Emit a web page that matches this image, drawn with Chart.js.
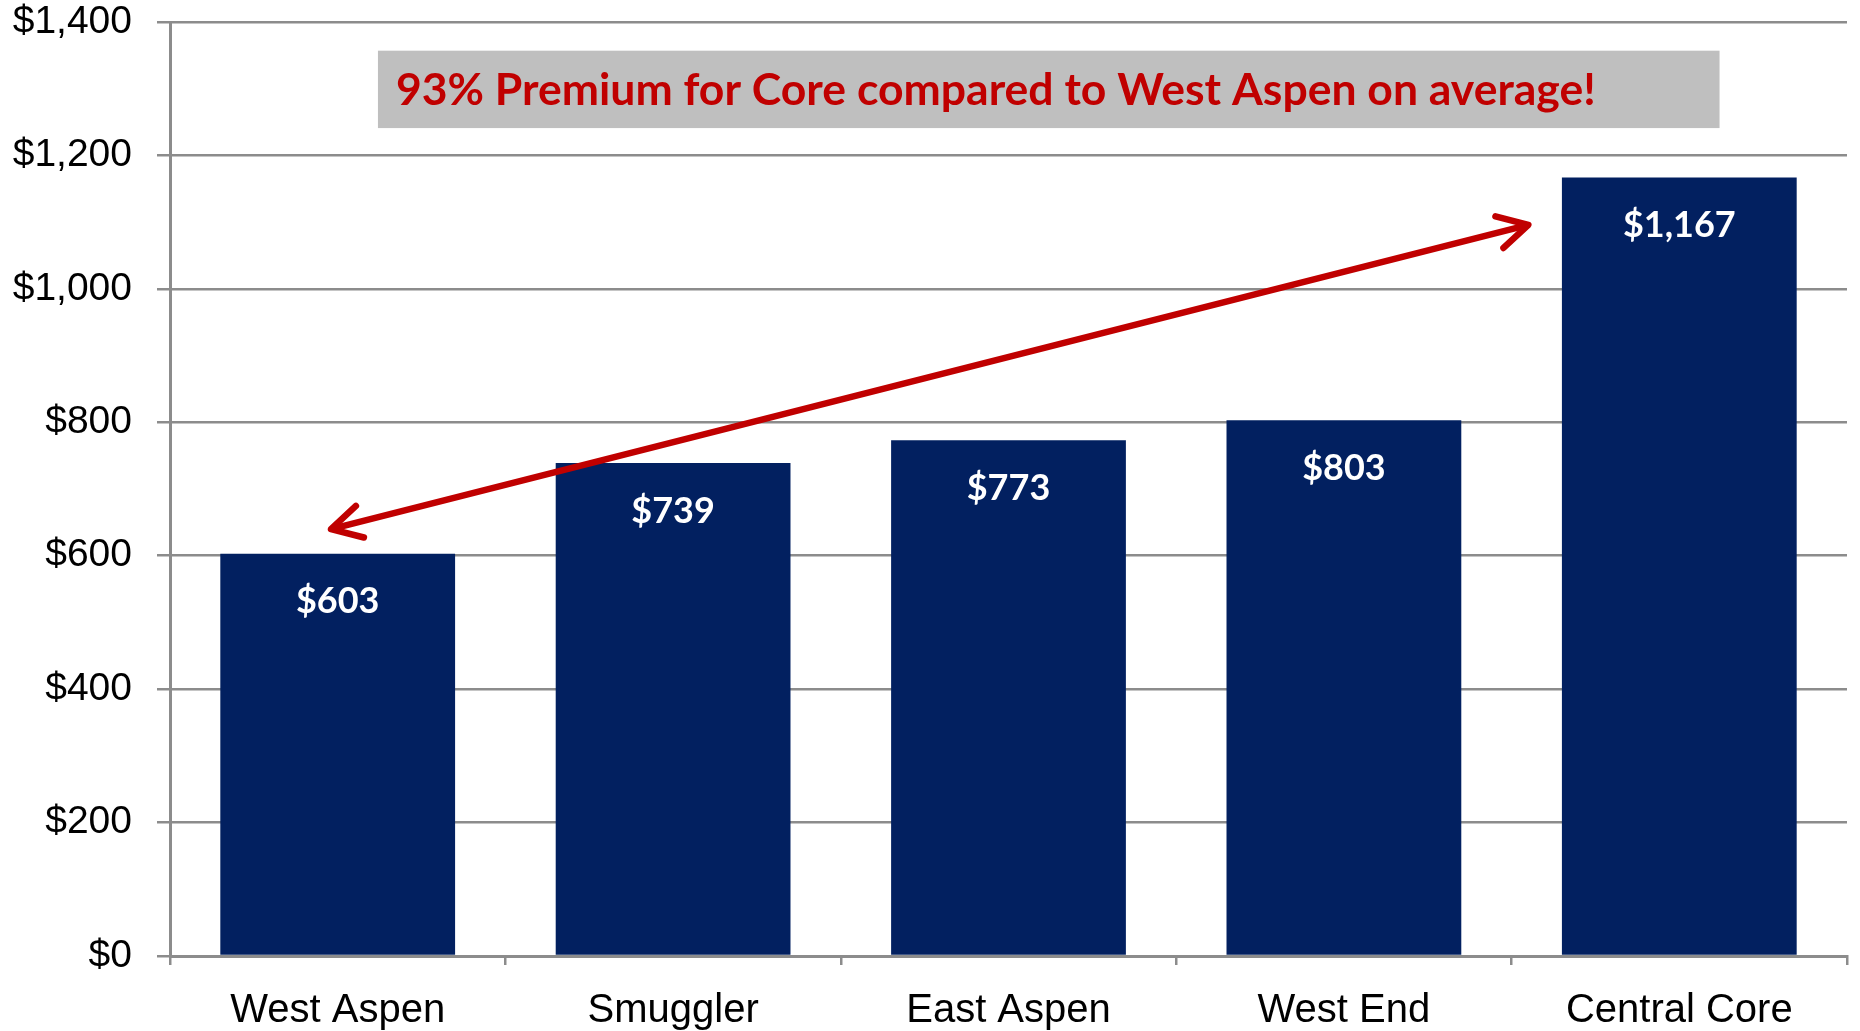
<!DOCTYPE html>
<html>
<head>
<meta charset="utf-8">
<script src="https://cdn.jsdelivr.net/npm/chart.js@4/dist/chart.umd.min.js"></script>
<style>
  html, body { margin: 0; padding: 0; background: #ffffff; }
  #wrap { width: 1860px; height: 1031px; position: relative; }
</style>
</head>
<body>
<div id="wrap"><canvas id="c" width="1860" height="1031"></canvas></div>
<script>
// ---- data ----
const categories = ["West Aspen", "Smuggler", "East Aspen", "West End", "Central Core"];
const values = [603, 739, 773, 803, 1167];
const yTicks = [0, 200, 400, 600, 800, 1000, 1200, 1400];
const calloutText = "93% Premium for Core compared to West Aspen on average!";
// callout box corners in data units: [category index, value]
const calloutFrom = [0.12, 1357];
const calloutTo = [4.12, 1241];
// double-headed arrow end points in data units: [category index, value]
const arrowFrom = [-0.02, 640];
const arrowTo = [3.55, 1096];

const fmt = v => "$" + v.toLocaleString("en-US");

const GRID = "#8c8c8c";
const NAVY = "#022060";
const RED = "#c00000";

const overlay = {
  id: "overlay",
  afterDatasetsDraw(chart) {
    const ctx = chart.ctx;
    const xs = chart.scales.x, ys = chart.scales.y;
    const px = i => xs.getPixelForValue(0) + (xs.getPixelForValue(1) - xs.getPixelForValue(0)) * i;

    // bar value labels
    const meta = chart.getDatasetMeta(0);
    ctx.save();
    ctx.fillStyle = "#ffffff";
    ctx.font = "700 36px Lato";
    ctx.textAlign = "center";
    ctx.textBaseline = "middle";
    meta.data.forEach((bar, i) => {
      ctx.fillText(fmt(values[i]), bar.x, bar.y + 48);
    });
    ctx.restore();

    // callout box
    const bx0 = px(calloutFrom[0]), by0 = ys.getPixelForValue(calloutFrom[1]);
    const bx1 = px(calloutTo[0]), by1 = ys.getPixelForValue(calloutTo[1]);
    ctx.save();
    ctx.fillStyle = "#bfbfbf";
    ctx.fillRect(bx0, by0, bx1 - bx0, by1 - by0);
    ctx.fillStyle = RED;
    ctx.font = "700 44.5px Lato";
    ctx.textAlign = "left";
    ctx.textBaseline = "middle";
    ctx.fillText(calloutText, bx0 + 18, (by0 + by1) / 2 + 1);
    ctx.restore();

    // double-headed arrow
    const x0 = px(arrowFrom[0]), y0 = ys.getPixelForValue(arrowFrom[1]);
    const x1 = px(arrowTo[0]), y1 = ys.getPixelForValue(arrowTo[1]);
    const ang = Math.atan2(y1 - y0, x1 - x0);
    const head = 34, spread = 0.5;
    ctx.save();
    ctx.strokeStyle = RED;
    ctx.lineWidth = 6.5;
    ctx.lineCap = "round";
    ctx.lineJoin = "round";
    ctx.beginPath();
    ctx.moveTo(x0 + Math.cos(ang) * 3, y0 + Math.sin(ang) * 3);
    ctx.lineTo(x1 - Math.cos(ang) * 3, y1 - Math.sin(ang) * 3);
    ctx.stroke();
    const drawHead = (x, y, a) => {
      ctx.beginPath();
      ctx.moveTo(x + Math.cos(a + spread) * head, y + Math.sin(a + spread) * head);
      ctx.lineTo(x, y);
      ctx.lineTo(x + Math.cos(a - spread) * head, y + Math.sin(a - spread) * head);
      ctx.stroke();
    };
    drawHead(x1, y1, ang + Math.PI);
    drawHead(x0, y0, ang);
    ctx.restore();
  }
};

new Chart(document.getElementById("c"), {
  type: "bar",
  data: {
    labels: categories,
    datasets: [{
      data: values,
      backgroundColor: NAVY,
      borderWidth: 0,
      barPercentage: 0.70,
      categoryPercentage: 1.0
    }]
  },
  options: {
    responsive: false,
    animation: false,
    devicePixelRatio: 1,
    layout: { padding: { top: 22, right: 13, left: 0, bottom: 0 } },
    plugins: { legend: { display: false }, tooltip: { enabled: false } },
    scales: {
      x: {
        grid: {
          display: true,
          offset: true,
          drawOnChartArea: false,
          drawTicks: true,
          tickLength: 9,
          color: GRID,
          lineWidth: 2.5
        },
        border: { display: true, color: GRID, width: 3 },
        ticks: {
          color: "#000000",
          font: { family: "'Liberation Sans', Arial, sans-serif", size: 40 },
          padding: 22,
          maxRotation: 0,
          autoSkip: false
        },
        afterFit(scale) { scale.height = 75; scale.paddingLeft = 0; scale.paddingRight = 0; }
      },
      y: {
        min: yTicks[0],
        max: yTicks[yTicks.length - 1],
        afterBuildTicks(scale) { scale.ticks = yTicks.map(v => ({ value: v })); },
        grid: {
          color: GRID,
          lineWidth: 2.5,
          drawTicks: true,
          tickLength: 13
        },
        border: { display: true, color: GRID, width: 3 },
        ticks: {
          color: "#000000",
          font: { family: "'Liberation Sans', Arial, sans-serif", size: 39 },
          padding: 25,
          callback: v => fmt(v)
        },
        afterFit(scale) { scale.width = 170; scale.paddingTop = 0; scale.paddingBottom = 0; }
      }
    }
  },
  plugins: [overlay]
});
</script>
</body>
</html>
